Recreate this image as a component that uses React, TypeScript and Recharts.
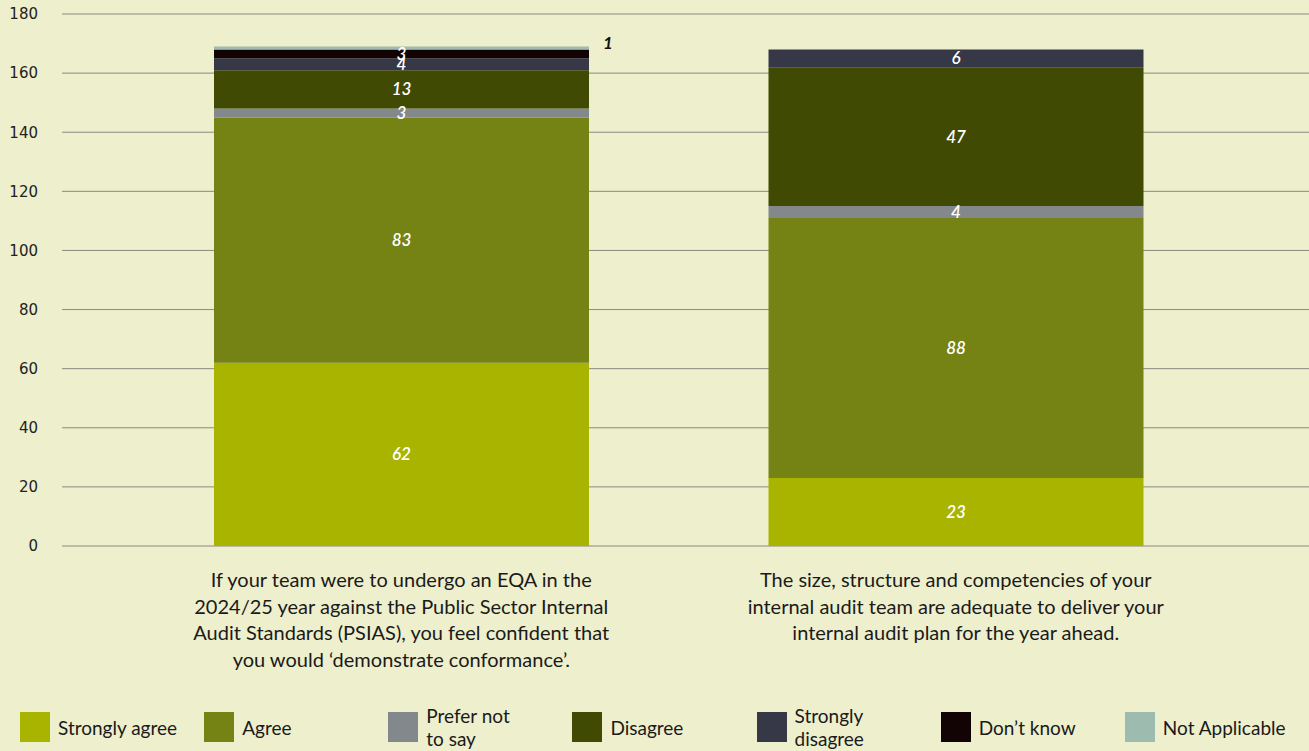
import { BarChart, Bar, XAxis, YAxis, CartesianGrid, Legend, LabelList } from 'recharts';

// question text, split the way the reference wraps it
const questionLines = [
  [
    'If your team were to undergo an EQA in the',
    '2024/25 year against the Public Sector Internal',
    'Audit Standards (PSIAS), you feel confident that',
    'you would \u2018demonstrate conformance\u2019.',
  ],
  [
    'The size, structure and competencies of your',
    'internal audit team are adequate to deliver your',
    'internal audit plan for the year ahead.',
  ],
];

const strongAgree = [62, 23];
const agree = [83, 88];
const preferNot = [3, 4];
const disagree = [13, 47];
const strongDisagree = [4, 6];
const dontKnow = [3, 0];
const notApplicable = [1, 0];

const yTicks = [0, 20, 40, 60, 80, 100, 120, 140, 160, 180];

const SERIES = [
  { key: 'strongAgree', name: 'Strongly agree', color: '#a8b400' },
  { key: 'agree', name: 'Agree', color: '#758214' },
  { key: 'preferNot', name: 'Prefer not|to say', color: '#82888b' },
  { key: 'disagree', name: 'Disagree', color: '#414a03' },
  { key: 'strongDisagree', name: 'Strongly|disagree', color: '#363848' },
  { key: 'dontKnow', name: 'Don\u2019t know', color: '#120404' },
  { key: 'notApplicable', name: 'Not Applicable', color: '#9dbcaf' },
];

const data = questionLines.map((_, i) => ({
  name: 'q' + i,
  strongAgree: strongAgree[i],
  agree: agree[i],
  preferNot: preferNot[i],
  disagree: disagree[i],
  strongDisagree: strongDisagree[i],
  dontKnow: dontKnow[i],
  notApplicable: notApplicable[i],
}));

const FONT = 'Lato, "Open Sans", sans-serif';

function makeLabel(seriesKey: string) {
  return (props: any) => {
    const { x, y, width, height, value, index } = props;
    const v = Number(value);
    if (v >= 2) {
      return (
        <text
          x={x + width / 2}
          y={y + height / 2}
          dy="0.35em"
          textAnchor="middle"
          fill="#ffffff"
          fontSize={17}
          fontStyle="italic"
          fontWeight={600}
          fontFamily={FONT}
        >
          {v}
        </text>
      );
    }
    // small values go outside the bar, to the right
    let ly = y - 3;
    if (seriesKey === 'notApplicable' && dontKnow[index] < 2) ly -= 19;
    return (
      <text
        x={x + width + 19}
        y={ly}
        dy="0.35em"
        textAnchor="middle"
        fill="#111111"
        fontSize={17}
        fontStyle="italic"
        fontWeight={700}
        fontFamily={FONT}
      >
        {v}
      </text>
    );
  };
}

const QuestionTick = (props: any) => {
  const { x, y, index } = props;
  const lines = questionLines[index] || [];
  return (
    <text x={x} y={y + 33} textAnchor="middle" fill="#1a1a1a" fontSize={20} fontFamily={FONT}>
      {lines.map((l, i) => (
        <tspan key={i} x={x} dy={i === 0 ? 0 : 26.5}>
          {l}
        </tspan>
      ))}
    </text>
  );
};

const LegendContent = () => (
  <div style={{ display: 'flex', height: 46, paddingLeft: 20, paddingTop: 8, fontFamily: FONT }}>
    {SERIES.map((s) => {
      const parts = s.name.split('|');
      return (
        <div key={s.key} style={{ width: 184.5, display: 'flex', alignItems: 'center' }}>
          <div style={{ width: 30, height: 30, background: s.color, flexShrink: 0 }} />
          <div style={{ marginLeft: 8, fontSize: 19, lineHeight: '23px', color: '#1a1a1a', whiteSpace: 'nowrap' }}>
            {parts.map((p, i) => (
              <div key={i}>{p}</div>
            ))}
          </div>
        </div>
      );
    })}
  </div>
);

export default function App() {
  return (
    <div style={{ position: 'absolute', left: 0, top: 0, width: 1309, height: 751, background: '#eeefcc' }}>
      <BarChart
        width={1309}
        height={751}
        data={data}
        margin={{ top: 14, right: 0, left: 0, bottom: 1 }}
        barSize={375}
      >
        <CartesianGrid vertical={false} stroke="#8a8a80" strokeWidth={1} />
        <XAxis
          dataKey="name"
          tick={<QuestionTick />}
          tickLine={false}
          axisLine={false}
          height={150}
          interval={0}
          padding={{ left: 62, right: 76 }}
        />
        <YAxis
          width={62}
          domain={[0, 180]}
          ticks={yTicks}
          tickLine={false}
          axisLine={false}
          tickMargin={18}
          tick={{ fill: '#222222', fontSize: 15, fontFamily: 'DejaVu Sans' }}
        />
        <Legend verticalAlign="bottom" content={<LegendContent />} wrapperStyle={{ left: 0, width: 1309 }} />
        {SERIES.map((s) => (
          <Bar key={s.key} dataKey={s.key} name={s.name} stackId="a" fill={s.color} isAnimationActive={false}>
            <LabelList dataKey={s.key} content={makeLabel(s.key)} />
          </Bar>
        ))}
      </BarChart>
    </div>
  );
}
